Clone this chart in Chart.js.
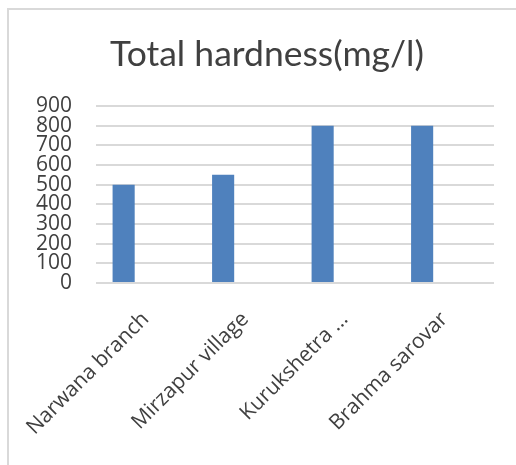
<!DOCTYPE html>
<html>
<head>
<meta charset="utf-8">
<title>Total hardness</title>
<script src="https://cdn.jsdelivr.net/npm/chart.js@4.4.1/dist/chart.umd.min.js"></script>
<style>
  html, body { margin: 0; padding: 0; background: #ffffff; }
  #wrap { position: relative; width: 516px; height: 465px; overflow: hidden; }
  #frame {
    position: absolute; left: 7px; top: 8px; width: 600px; height: 600px;
    border-left: 2px solid #d9d9d9; border-top: 2px solid #d9d9d9;
  }
  #chart { position: absolute; left: 0; top: 0; }
</style>
</head>
<body>
<div id="wrap">
  <div id="frame"></div>
  <canvas id="chart" width="516" height="465"></canvas>
</div>
<script>
const sites = ['Narwana branch', 'Mirzapur village', 'Kurukshetra ...', 'Brahma sarovar'];
const hardness = [500, 550, 800, 800];
// the sheet had two more (empty) series slots, which is why the bars sit left in each group
const emptySeries = [];
const yTicks = { min: 0, max: 900, step: 100 };

const textColor = '#404040';
const gridColor = '#d9d9d9';
const barColor = '#4f81bd';

const W = 516, H = 465;
const plotLeft = 96, plotRight = 494, plotTop = 106, plotBottom = 283;
const padLeft = 30, padRight = 12;
const titleSize = 35.5;

const ctx = document.getElementById('chart').getContext('2d');
new Chart(ctx, {
  type: 'bar',
  data: {
    labels: sites,
    datasets: [
      { label: 'Total hardness(mg/l)', data: hardness, backgroundColor: barColor },
      { label: 'Series 2', data: emptySeries, backgroundColor: barColor },
      { label: 'Series 3', data: emptySeries, backgroundColor: barColor }
    ]
  },
  options: {
    responsive: false,
    devicePixelRatio: 1,
    animation: false,
    categoryPercentage: 2 / 3,
    barPercentage: 1,
    layout: { padding: { left: padLeft, right: padRight, top: 0, bottom: 0 } },
    plugins: {
      legend: { display: false },
      tooltip: { enabled: false },
      title: {
        display: true,
        text: 'Total hardness(mg/l)',
        color: textColor,
        font: { family: 'Lato', size: titleSize, weight: 'normal', lineHeight: 1.2 },
        padding: { top: 33, bottom: plotTop - 33 - titleSize * 1.2 }
      }
    },
    scales: {
      x: {
        grid: { display: false },
        border: { display: false },
        ticks: {
          color: textColor,
          font: { family: 'Open Sans', size: 21 },
          minRotation: 45,
          maxRotation: 45,
          autoSkip: false,
          padding: 16
        },
        afterFit: (scale) => {
          scale.height = H - plotBottom;
          scale.paddingLeft = 0;
          scale.paddingRight = 0;
        }
      },
      y: {
        min: yTicks.min,
        max: yTicks.max,
        grid: { color: gridColor, lineWidth: 2, drawTicks: false },
        border: { display: false },
        ticks: {
          stepSize: yTicks.step,
          autoSkip: false,
          color: textColor,
          font: { family: 'Open Sans', size: 21 },
          padding: 24
        },
        afterFit: (scale) => {
          scale.width = plotLeft - padLeft;
          scale.paddingTop = 0;
          scale.paddingBottom = 0;
        }
      },
      // blank spacer on the right so the title centres over the full frame
      spacer: {
        type: 'linear',
        position: 'right',
        grid: { display: false },
        border: { display: false },
        ticks: { display: false },
        afterFit: (scale) => {
          scale.width = W - padRight - plotRight;
        }
      }
    }
  }
});
</script>
</body>
</html>
